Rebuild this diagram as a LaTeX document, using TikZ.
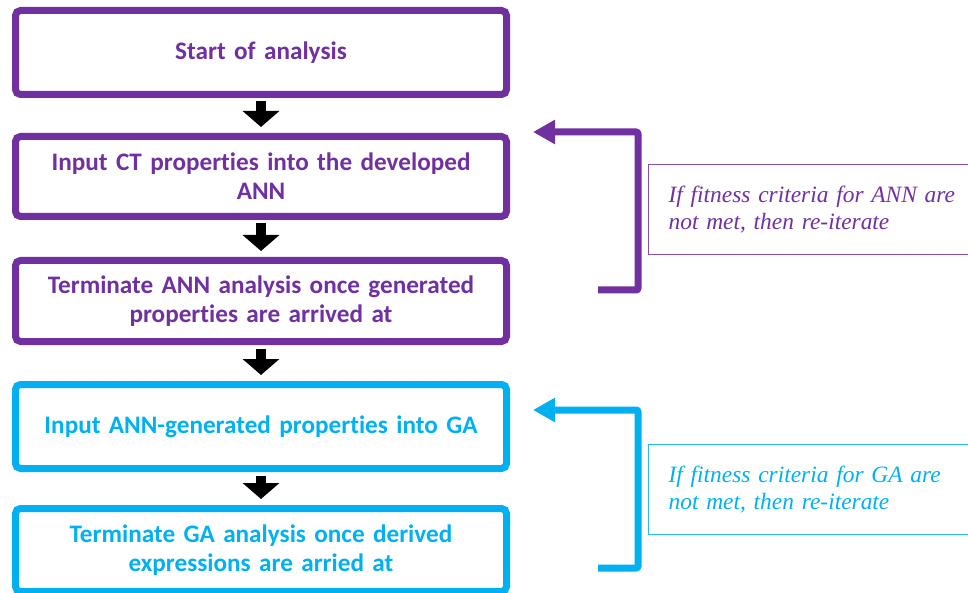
\documentclass[tikz,border=0pt]{standalone}
\usepackage{fontspec}
\setmainfont{Liberation Serif}
\newfontfamily\calibri[Ligatures=NoCommon]{Carlito}
\usetikzlibrary{arrows.meta}
\definecolor{vpurple}{HTML}{7030A0}
\definecolor{vblue}{HTML}{00B0F0}
\tikzset{
  stepbox/.style={draw, line width=7pt, rounded corners=5pt, rectangle, inner sep=0pt,
    minimum width=491pt, align=center, text width=480pt,
    font=\calibri\bfseries\fontsize{25.2}{29}\selectfont},
  blockarrow/.style={black, line width=10pt, -{Triangle[width=36pt,length=16pt]}},
  loopline/.style={line width=7pt, rounded corners=2pt, -{Triangle[width=23pt,length=22pt]}},
  notebox/.style={draw, line width=1.2pt, rectangle, anchor=north west, inner xsep=20pt,
    text width=310pt, minimum height=90pt, align=left,
    font=\itshape\fontsize{23.4}{27}\selectfont},
}
\begin{document}
\begin{tikzpicture}[x=1pt,y=-1pt]
\useasboundingbox (0,0) rectangle (968,593);
\node[stepbox, vpurple, minimum height=84pt] (b1) at (261,52.5) {Start of analysis};
\node[stepbox, vpurple, minimum height=80pt] (b2) at (261,176.5) {Input CT properties into the developed\\ANN};
\node[stepbox, vpurple, minimum height=81pt] (b3) at (261,301) {Terminate ANN analysis once generated\\properties are arrived at};
\node[stepbox, vblue, minimum height=84pt] (b4) at (261,426.5) {Input ANN-generated properties into GA};
\node[stepbox, vblue, minimum height=83pt] (b5) at (261,550) {Terminate GA analysis once derived\\expressions are arried at};

\draw[blockarrow, shorten <=3.5pt, shorten >=6pt] (b1.south) -- (b2.north);
\draw[blockarrow, shorten <=3.5pt, shorten >=6pt] (b2.south) -- (b3.north);
\draw[blockarrow, shorten <=3.5pt, shorten >=6pt] (b3.south) -- (b4.north);
\draw[blockarrow, shorten <=3.5pt, shorten >=6pt] (b4.south) -- (b5.north);

\coordinate (f1s) at (598,290);
\coordinate (f1c) at (638,132);
\coordinate (f1e) at (533,132);
\draw[loopline, vpurple] (f1s) -| (f1c) -- (f1e);

\coordinate (f2s) at (598,568);
\coordinate (f2c) at (638,410);
\coordinate (f2e) at (533,410);
\draw[loopline, vblue] (f2s) -| (f2c) -- (f2e);

\node[notebox, draw=vpurple!85, text=vpurple] (n1) at (648,164) {If fitness criteria for ANN are\\not met, then re-iterate};
\node[notebox, draw=vblue!85, text=vblue] (n2) at (648,444) {If fitness criteria for GA are\\not met, then re-iterate};
\end{tikzpicture}
\end{document}
